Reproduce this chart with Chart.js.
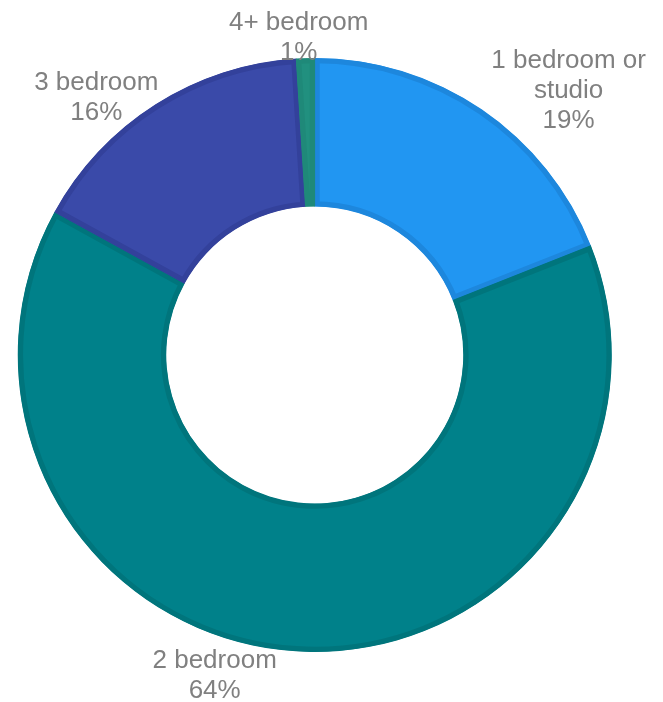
<!DOCTYPE html>
<html>
<head>
<meta charset="utf-8">
<script src="https://cdn.jsdelivr.net/npm/chart.js@4"></script>
<style>
  html, body { margin: 0; padding: 0; background: #fff; }
  #wrap { width: 663px; height: 702px; position: relative; }
</style>
</head>
<body>
<div id="wrap"><canvas id="unit-chart"></canvas></div>
<script>
// data
const categories = [["1 bedroom or", "studio"], "2 bedroom", "3 bedroom", "4+ bedroom"];
const shares = [19, 64, 16, 1];

const fillColors = ["#2196F2", "#00818A", "#3A4AA9", "#21907F"];
const edgeColors = ["#1D87DD", "#00757C", "#33419B", "#1F8979"];

// nudges for the outside labels (px), applied after placing them on the slice's mid angle
const labelNudge = [[74, 0], [-80, 1], [-47, 13], [-6, 3]];

const outsideLabels = {
  id: "outsideLabels",
  afterDatasetsDraw(chart) {
    const ctx = chart.ctx;
    const arcs = chart.getDatasetMeta(0).data;
    ctx.save();
    ctx.font = "26px 'Liberation Sans', Arial, sans-serif";
    ctx.fillStyle = "#808080";
    ctx.textAlign = "center";
    ctx.textBaseline = "middle";
    arcs.forEach((arc, i) => {
      const { x, y, startAngle, endAngle, outerRadius } = arc.getProps(
        ["x", "y", "startAngle", "endAngle", "outerRadius"], true);
      const mid = (startAngle + endAngle) / 2;
      const d = outerRadius + 23;
      const cx = x + Math.cos(mid) * d + labelNudge[i][0];
      const cy = y + Math.sin(mid) * d + labelNudge[i][1];
      const name = chart.data.labels[i];
      const lines = (Array.isArray(name) ? name : [name]).concat([shares[i] + "%"]);
      const lh = 30;
      const top = cy - (lines.length - 1) * lh / 2;
      lines.forEach((t, k) => ctx.fillText(t, cx, top + k * lh));
    });
    ctx.restore();
  }
};

new Chart(document.getElementById("unit-chart"), {
  type: "doughnut",
  data: {
    labels: categories,
    datasets: [
      {
        data: shares,
        backgroundColor: fillColors,
        borderColor: edgeColors,
        borderWidth: 5,
        borderAlign: "inner",
        hoverOffset: 0,
      },
    ],
  },
  options: {
    responsive: true,
    maintainAspectRatio: false,
    animation: false,
    cutout: "50%",
    layout: {
      padding: { left: 17.5, right: 51, top: 58, bottom: 50 },
    },
    plugins: {
      legend: { display: false },
      tooltip: { enabled: false },
    },
  },
  plugins: [outsideLabels],
});
</script>
</body>
</html>
